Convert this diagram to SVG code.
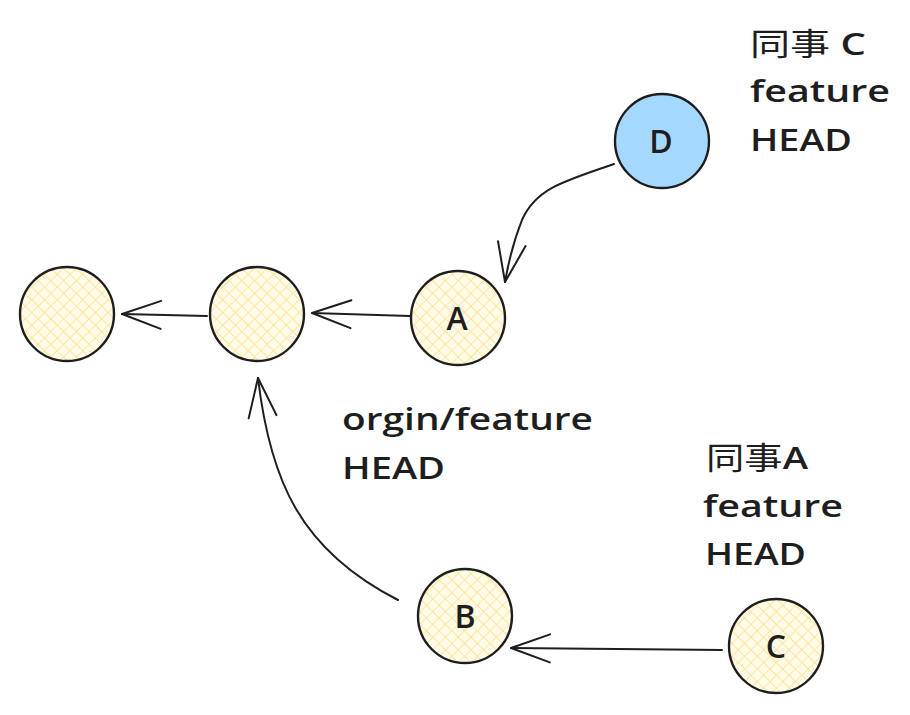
<svg xmlns="http://www.w3.org/2000/svg" width="910" height="715" viewBox="0 0 910 715">
<style>
.node{stroke:#1e1e1e;stroke-width:2.4}
.y{fill:url(#hatch)}
.b{fill:#a5d8ff}
.lbl{font-family:"Open Sans","Noto Sans CJK SC",sans-serif;font-size:32px;font-weight:600;fill:#1e1e1e;text-anchor:middle}
.txt{font-family:"Open Sans","Noto Sans CJK SC",sans-serif;font-size:31px;font-weight:600;fill:#1e1e1e}
.cjk{font-family:"Noto Sans CJK SC",sans-serif;font-weight:400}
.edge{fill:none;stroke:#1e1e1e;stroke-width:2;stroke-linecap:round}
</style>
<defs>
<pattern id="hatch" patternUnits="userSpaceOnUse" width="9" height="9" patternTransform="rotate(45)">
<rect width="9" height="9" fill="#fffbe8"/>
<path d="M0,0 V9 M0,0 H9" stroke="#ffdf80" stroke-width="1.3"/>
</pattern>
<marker id="arr" markerUnits="userSpaceOnUse" markerWidth="44" markerHeight="32" refX="41" refY="16" orient="auto" viewBox="0 0 44 32">
<path d="M2,2 L41,16 L2,30" fill="none" stroke="#1e1e1e" stroke-width="2" stroke-linecap="round" stroke-linejoin="round"/>
</marker>
</defs>
<rect width="910" height="715" fill="#ffffff"/>
<g id="connectors">
<path class="edge" d="M207,316 L122,314" marker-end="url(#arr)"/>
<path class="edge" d="M410,316 L312,313" marker-end="url(#arr)"/>
<path class="edge" d="M614,164 C560,182 535,190 522,220 C512,245 508,265 505,282" marker-end="url(#arr)"/>
<path class="edge" d="M398,600 C300,550 270,480 258,378" marker-end="url(#arr)"/>
<path class="edge" d="M722,650 L511,648" marker-end="url(#arr)"/>
</g>
<g id="n1"><circle class="node y" cx="67" cy="314" r="47"/></g>
<g id="n2"><circle class="node y" cx="257" cy="314" r="47"/></g>
<g id="nA"><circle class="node y" cx="458" cy="318" r="47"/><text class="lbl" x="457" y="330">A</text></g>
<g id="nD"><circle class="node b" cx="662" cy="141" r="47"/><text class="lbl" x="661" y="153">D</text></g>
<g id="nB"><circle class="node y" cx="465" cy="616" r="47"/><text class="lbl" x="465" y="628">B</text></g>
<g id="nC"><circle class="node y" cx="776" cy="646" r="47"/><text class="lbl" x="776" y="658">C</text></g>
<g id="labelD">
<text class="txt" x="750" y="55" textLength="116" lengthAdjust="spacingAndGlyphs"><tspan class="cjk">同事</tspan> C</text>
<text class="txt" x="750" y="102" textLength="140" lengthAdjust="spacingAndGlyphs">feature</text>
<text class="txt" x="750" y="151" textLength="102" lengthAdjust="spacingAndGlyphs">HEAD</text>
</g>
<g id="labelA">
<text class="txt" x="342" y="430" textLength="251" lengthAdjust="spacingAndGlyphs">orgin/feature</text>
<text class="txt" x="342" y="479" textLength="103" lengthAdjust="spacingAndGlyphs">HEAD</text>
</g>
<g id="labelC">
<text class="txt" x="706" y="469" textLength="102" lengthAdjust="spacingAndGlyphs"><tspan class="cjk">同事</tspan>A</text>
<text class="txt" x="703" y="517" textLength="140" lengthAdjust="spacingAndGlyphs">feature</text>
<text class="txt" x="705" y="565" textLength="101" lengthAdjust="spacingAndGlyphs">HEAD</text>
</g>
</svg>
